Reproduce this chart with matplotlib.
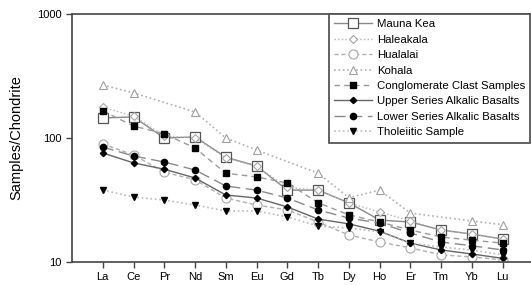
import numpy as np
import matplotlib
matplotlib.use('Agg')
import matplotlib.pyplot as plt
from matplotlib.ticker import NullLocator, FixedLocator

plt.rcParams['font.family'] = ['Liberation Sans', 'DejaVu Sans']

elements = ['La', 'Ce', 'Pr', 'Nd', 'Sm', 'Eu', 'Gd', 'Tb', 'Dy', 'Ho', 'Er', 'Tm', 'Yb', 'Lu']
nan = np.nan

# chondrite-normalised values
mauna_kea = [145, 148, 100, 102, 70, 59.5, 38, 38, 30, 21.8, 21, 18.1, 16.8, 15.3]
haleakala = [177, 150, 104, 100, 69, 59, 40, 38, 30, 25.3, 21.5, 18, 16.8, 15.3]
hualalai = [89.5, 73, 53, 46, 32.8, 28.8, 26.3, 21, 16.5, 14.5, 13, 11.4, 11, 10.4]
kohala = [267, 231, nan, 162, 100, 80, nan, 52, 33, 38, 24.8, nan, 21.4, 20]
conglomerate = [165, 125, 108, 83, 52, 48.5, 43.4, 30, 24, 21, 18.1, 15.9, 15, 14.2]
upper_alkalic = [75.7, 63, 56, 47.6, 34.7, 32.8, 27.8, 22.2, 20.3, 17.7, 14.2, 12.5, 11.6, 10.7]
lower_alkalic = [84.6, 71.6, 64, 55.2, 41, 38, 32.8, 26.3, 22.6, 20.6, 17.1, 14.5, 13.5, 12.5]
tholeiitic = [38.1, 33.4, 31.6, 28.8, 25.8, 25.8, 23.1, 19.5, 18.8, 17.5, 14.2, 13.2, 12.5, 11.4]

series = [
    ('Mauna Kea', mauna_kea, dict(color='#8a8a8a', ls='-', lw=1.0, marker='s', ms=6.5,
                                  mfc='white', mec='#555555', mew=0.9)),
    ('Haleakala', haleakala, dict(color='#b5b5b5', ls=':', lw=1.0, marker='D', ms=4,
                                  mfc='white', mec='#a5a5a5', mew=0.8)),
    ('Hualalai', hualalai, dict(color='#b0b0b0', ls=(0, (3, 2)), lw=1.0, marker='o', ms=6.5,
                                mfc='white', mec='#aaaaaa', mew=0.8)),
    ('Kohala', kohala, dict(color='#b0b0b0', ls=':', lw=1.2, marker='^', ms=6,
                            mfc='white', mec='#a0a0a0', mew=0.8)),
    ('Conglomerate Clast Samples', conglomerate, dict(color='#9a9a9a', ls=(0, (4, 3)), lw=1.0,
                                                      marker='s', ms=4.5, mfc='black', mec='black')),
    ('Upper Series Alkalic Basalts', upper_alkalic, dict(color='#666666', ls='-', lw=1.0,
                                                         marker='D', ms=3.2, mfc='black', mec='black')),
    ('Lower Series Alkalic Basalts', lower_alkalic, dict(color='#8a8a8a', ls=(0, (8, 4)), lw=1.0,
                                                         marker='o', ms=4.5, mfc='black', mec='black')),
    ('Tholeiitic Sample', tholeiitic, dict(color='#bbbbbb', ls=':', lw=1.2,
                                           marker='v', ms=4.5, mfc='black', mec='black')),
]

fig = plt.figure(figsize=(5.31, 2.85), dpi=100)
ax = fig.add_axes([72 / 531, 23 / 285, 461.5 / 531, 248 / 285])

x = np.arange(len(elements))
for name, vals, style in series:
    v = np.array(vals, dtype=float)
    ok = ~np.isnan(v)
    ax.plot(x[ok], v[ok], label=name, **style)

ax.set_yscale('log')
ax.set_ylim(10, 1000)
ax.set_xlim(-1, 14)
ax.yaxis.set_major_locator(FixedLocator([10, 100, 1000]))
ax.yaxis.set_minor_locator(NullLocator())
ax.set_yticklabels(['10', '100', '1000'])
ax.set_xticks(x)
ax.set_xticklabels(elements)
ax.tick_params(axis='both', labelsize=8, direction='out', length=4, width=1, color='#444444')
ax.set_ylabel('Samples/Chondrite', fontsize=10.5, labelpad=10)

for s in ['left', 'top', 'bottom']:
    ax.spines[s].set_color('#444444')
    ax.spines[s].set_linewidth(1.2)
ax.spines['right'].set_visible(False)

leg = ax.legend(loc='upper right', bbox_to_anchor=(530 / 531, 1 - 14 / 285),
                bbox_transform=fig.transFigure, fontsize=8.2, handlelength=3.3,
                handletextpad=0.45, labelspacing=0.48, borderpad=0.45,
                borderaxespad=0, fancybox=False, framealpha=1)
leg.get_frame().set_edgecolor('#555555')
leg.get_frame().set_linewidth(1.3)

fig.savefig('out.png', dpi=100)
